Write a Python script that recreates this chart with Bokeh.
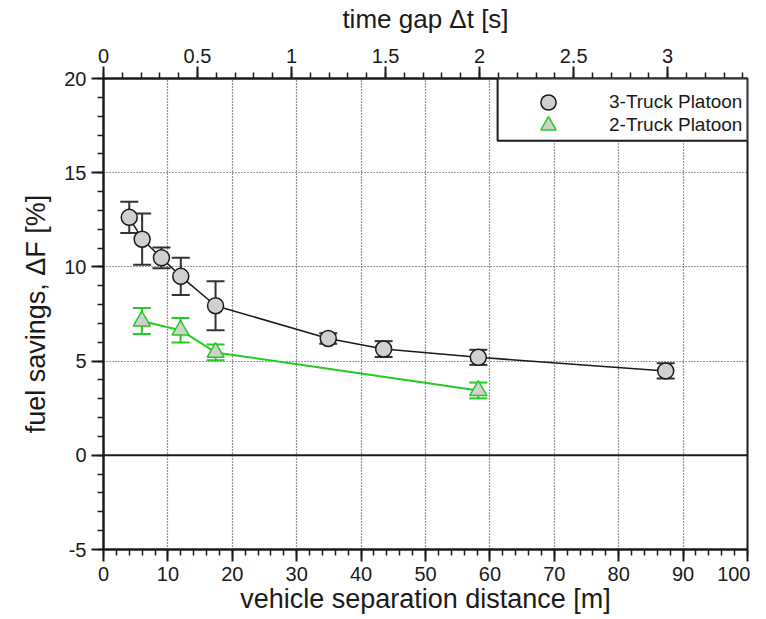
import numpy as np
from bokeh.plotting import figure
from bokeh.models import (Range1d, LinearAxis, SingleIntervalTicker, NumeralTickFormatter,
                          Span, Legend, LegendItem, BoxAnnotation)
from bokeh.embed import file_html
from bokeh.resources import INLINE

# ---------------- data ----------------
sep_3 = [4.0, 6.0, 9.0, 12.0, 17.4, 34.9, 43.5, 58.2, 87.3]
fs_3 = [12.63, 11.47, 10.48, 9.50, 7.94, 6.20, 5.64, 5.20, 4.48]
err_3 = [0.83, 1.36, 0.55, 0.99, 1.30, 0.28, 0.42, 0.40, 0.40]

sep_2 = [5.95, 11.96, 17.4, 58.2]
fs_2 = [7.13, 6.64, 5.46, 3.44]
err_2 = [0.69, 0.65, 0.42, 0.42]

truck_speed = 29.2  # m/s, links separation distance to time gap
x_max = 100
y_min, y_max = -5, 20
labels = ["3-Truck Platoon", "2-Truck Platoon"]

FONT = "Liberation Sans"
BLACK = "#1a1a1a"
GREEN = "#22cc22"
GREY_FILL = "#d0d0d0"

FW, FH = 644, 471

p = figure(frame_width=FW, frame_height=FH,
           x_range=Range1d(0, x_max), y_range=Range1d(y_min, y_max),
           output_backend="svg", toolbar_location=None,
           min_border_left=103, min_border_right=3, min_border_top=77,
           min_border_bottom=0, x_axis_label="vehicle separation distance [m]",
           y_axis_label="fuel savings, \u0394F [%]")
p.extra_x_ranges = {"time": Range1d(0, x_max / truck_speed)}
p.outline_line_color = BLACK
p.outline_line_width = 2
p.background_fill_color = "white"
p.border_fill_color = "white"


def style_axis(ax, ticker, fmt, label_standoff, axis_label_standoff, label_size):
    ax.ticker = ticker
    ax.formatter = fmt
    ax.axis_line_color = BLACK
    ax.axis_line_width = 2
    ax.major_tick_line_color = BLACK
    ax.major_tick_line_width = 2
    ax.major_tick_in = 0
    ax.major_tick_out = 12
    ax.minor_tick_line_color = BLACK
    ax.minor_tick_line_width = 1.5
    ax.minor_tick_in = 0
    ax.minor_tick_out = 6
    ax.major_label_text_font = FONT
    ax.major_label_text_font_size = "20px"
    ax.major_label_text_color = BLACK
    ax.major_label_standoff = label_standoff
    ax.axis_label_text_font = FONT
    ax.axis_label_text_font_size = label_size
    ax.axis_label_text_font_style = "normal"
    ax.axis_label_text_color = BLACK
    ax.axis_label_standoff = axis_label_standoff


xaxis = p.xaxis[0]
style_axis(xaxis, SingleIntervalTicker(interval=10, num_minor_ticks=5),
           NumeralTickFormatter(format="0"), 5, 0, "27px")
yaxis = p.yaxis[0]
style_axis(yaxis, SingleIntervalTicker(interval=5, num_minor_ticks=5),
           NumeralTickFormatter(format="0"), 5, 10, "27px")

top_axis = LinearAxis(x_range_name="time", axis_label="time gap \u0394t [s]")
style_axis(top_axis, SingleIntervalTicker(interval=0.5, num_minor_ticks=5),
           NumeralTickFormatter(format="0.[0]"), 4, 12, "26px")
p.add_layout(top_axis, "above")

# grids
p.xgrid.ticker = SingleIntervalTicker(interval=10)
p.ygrid.ticker = SingleIntervalTicker(interval=5)
for g in (p.xgrid[0], p.ygrid[0]):
    g.grid_line_color = "#333333"
    g.grid_line_dash = "1 2"
    g.grid_line_width = 1.2

p.add_layout(Span(location=0, dimension="width", line_color=BLACK, line_width=2))

# error bars
s3 = np.array(sep_3); f3 = np.array(fs_3); e3 = np.array(err_3)
s2 = np.array(sep_2); f2 = np.array(fs_2); e2 = np.array(err_2)

p.segment(x0=s3, y0=f3 - e3, x1=s3, y1=f3 + e3, line_color="#333333", line_width=2)
p.scatter(s3, f3 + e3, marker="dash", size=18, line_color="#333333", line_width=2)
p.scatter(s3, f3 - e3, marker="dash", size=18, line_color="#333333", line_width=2)

p.segment(x0=s2, y0=f2 - e2, x1=s2, y1=f2 + e2, line_color=GREEN, line_width=2)
p.scatter(s2, f2 + e2, marker="dash", size=18, line_color=GREEN, line_width=2)
p.scatter(s2, f2 - e2, marker="dash", size=18, line_color=GREEN, line_width=2)

# lines
p.line(s3, f3, line_color=BLACK, line_width=1.5)
p.line(s2, f2, line_color=GREEN, line_width=2)

# markers
r3 = p.scatter(s3, f3, marker="circle", size=16, fill_color=GREY_FILL,
               line_color=BLACK, line_width=1.5)
r2 = p.scatter(s2, f2, marker="triangle", size=17, fill_color=GREY_FILL,
               line_color=GREEN, line_width=1.5)

# legend frame (box) and two single-row legends for tight row spacing
p.add_layout(BoxAnnotation(left=61.2, right=x_max, top=y_max, bottom=16.7,
                           fill_color="white", fill_alpha=1,
                           line_color=BLACK, line_width=2, line_alpha=1))

GH = 38
common = dict(border_line_alpha=0, background_fill_alpha=0,
              label_text_font=FONT, label_text_font_size="19px",
              label_text_color=BLACK, glyph_width=GH, glyph_height=GH,
              spacing=0, padding=0, label_standoff=42, margin=0)
row_centers_from_top = [23.7, 46.7]
for item_label, rend, rc in zip(labels, [r3, r2], row_centers_from_top):
    lg = Legend(items=[LegendItem(label=item_label, renderers=[rend])],
                location=(426, int(round(FH - rc - GH / 2))), **common)
    p.add_layout(lg)

open("out.html", "w").write(file_html(p, INLINE))
